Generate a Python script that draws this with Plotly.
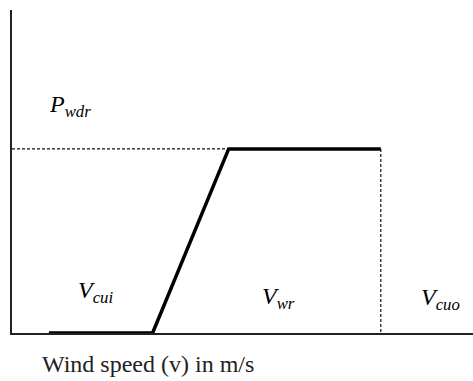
import plotly.graph_objects as go

# Idealised wind-turbine power curve (wind speed in m/s, power in p.u.)
v_start = 1.6       # where the drawn curve begins
v_cut_in = 6.1      # cut-in speed
v_rated = 9.4       # rated speed
v_cut_out = 16.0    # cut-out speed
p_rated = 1.0       # rated power

curve_v = [v_start, v_cut_in, v_rated, v_cut_out]
curve_p = [0.0, 0.0, p_rated, p_rated]

X_MAX = 20.0
Y_MAX = 1.755

fig = go.Figure()

# dashed guide: rated power level
fig.add_trace(go.Scatter(
    x=[0, v_rated], y=[p_rated, p_rated], mode="lines",
    line=dict(color="#111", width=1.2, dash="3px,2px"),
    hoverinfo="skip", showlegend=False))

# dashed guide: cut-out drop
fig.add_trace(go.Scatter(
    x=[v_cut_out, v_cut_out], y=[p_rated, 0], mode="lines",
    line=dict(color="#111", width=1.2, dash="3px,2px"),
    hoverinfo="skip", showlegend=False))

# power curve
fig.add_trace(go.Scatter(
    x=curve_v, y=curve_p, mode="lines",
    line=dict(color="#000", width=3.5),
    showlegend=False))

serif = "Liberation Serif"
labels = [
    (2.52, 1.233, "<i>P<sub>wdr</sub></i>"),
    (3.64, 0.225, "<i>V<sub>cui</sub></i>"),
    (11.58, 0.19, "<i>V<sub>wr</sub></i>"),
    (18.57, 0.185, "<i>V<sub>cuo</sub></i>"),
]
for x, y, t in labels:
    fig.add_annotation(x=x, y=y, text=t, showarrow=False,
                       font=dict(family=serif, size=24, color="#000"))

fig.add_annotation(x=0.295, y=-0.096, xref="paper", yref="paper",
                   xanchor="center", yanchor="middle",
                   text="Wind speed (v) in m/s", showarrow=False,
                   font=dict(family=serif, size=24, color="#222"))

axis_common = dict(showgrid=False, zeroline=False, showticklabels=False,
                   ticks="", showline=True, linecolor="#222", linewidth=2)
fig.update_xaxes(range=[0, X_MAX], **axis_common)
fig.update_yaxes(range=[0, Y_MAX], **axis_common)

fig.update_layout(
    width=473, height=381,
    margin=dict(l=12, r=0, t=10, b=48),
    plot_bgcolor="white", paper_bgcolor="white",
)

fig.write_html("out.html")
